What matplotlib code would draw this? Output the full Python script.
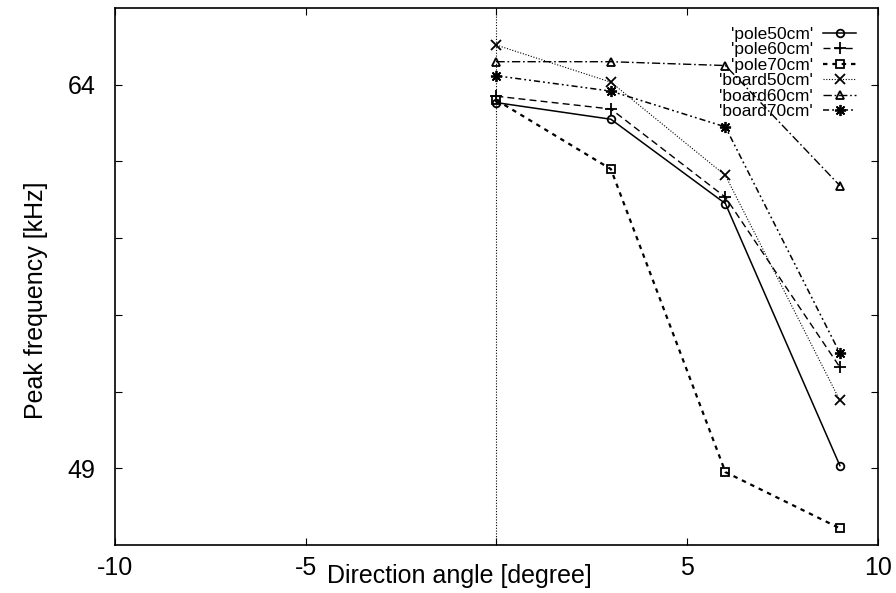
import numpy as np
import matplotlib.pyplot as plt

plt.rcParams['font.family'] = ['Liberation Sans', 'DejaVu Sans']

# direction angle [degree]
angle = [0, 3, 6, 9]

# peak frequency [kHz]
pole50 = [63.3, 62.65, 59.35, 49.1]
pole60 = [63.55, 63.05, 59.6, 52.95]
pole70 = [63.4, 60.7, 48.85, 46.65]
board50 = [65.55, 64.1, 60.45, 51.65]
board60 = [64.9, 64.9, 64.75, 60.05]
board70 = [64.35, 63.75, 62.35, 53.5]

labels = ["'pole50cm'", "'pole60cm'", "'pole70cm'",
          "'board50cm'", "'board60cm'", "'board70cm'"]

xticks = [-10, -5, 0, 5, 10]
xticklabels = ["-10", "-5", "", "5", "10"]
yticks = [49, 52, 55, 58, 61, 64]
yticklabels = ["49", "", "", "", "", "64"]


def main():
    fig = plt.figure(figsize=(8.96, 5.93), dpi=100)
    ax = fig.add_axes([0.128, 0.081, 0.852, 0.9055])

    series = [pole50, pole60, pole70, board50, board60, board70]
    styles = [
        dict(marker="o", ls="-", lw=1.1, ms=5.5),
        dict(marker="+", ls=(0, (5, 3)), lw=1.0, ms=8),
        dict(marker="s", ls=(0, (2, 2.2)), lw=1.6, ms=5.5),
        dict(marker="x", ls=(0, (1, 1.5)), lw=0.8, ms=6.5),
        dict(marker="^", ls=(0, (6, 2, 1.2, 2)), lw=1.0, ms=6),
        dict(marker=(8, 2, 0), ls=(0, (4, 2, 1.2, 2, 1.2, 2)), lw=1.1, ms=8),
    ]
    for y, lab, st in zip(series, labels, styles):
        kw = dict(color="black", mfc="none", mew=1.3)
        kw.update(st)
        ax.plot(angle, y, label=lab, **kw)

    # zero axis, gnuplot style
    ax.axvline(0, color="black", ls=(0, (1, 1.5)), lw=0.8)

    ax.set_xlim(-10, 10)
    ax.set_ylim(46, 67)
    ax.set_xticks(xticks, xticklabels)
    ax.set_yticks(yticks, yticklabels)
    ax.tick_params(direction="in", top=True, right=True, length=5,
                   width=0.8, labelsize=18)
    ax.tick_params(axis="x", pad=8)
    ax.tick_params(axis="y", pad=14)
    for sp in ax.spines.values():
        sp.set_linewidth(1.2)

    ax.set_xlabel("Direction angle [degree]", fontsize=18)
    ax.set_ylabel("Peak frequency [kHz]", fontsize=18)
    ax.xaxis.set_label_coords(0.452, -0.035)
    ax.yaxis.set_label_coords(-0.087, 0.456)

    ax.legend(loc="upper right", bbox_to_anchor=(0.985, 0.985), frameon=False,
              markerfirst=False, fontsize=12.5, labelspacing=0.02,
              handlelength=1.9, handletextpad=0.6, borderaxespad=0.2)

    fig.savefig("out.png", dpi=100)


if __name__ == '__main__':
    main()
